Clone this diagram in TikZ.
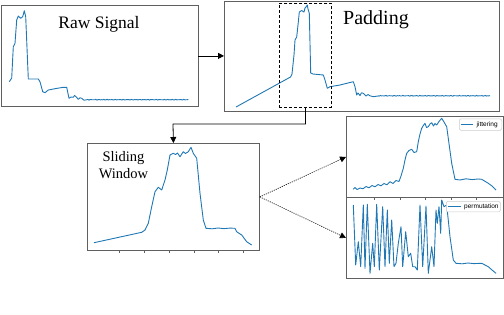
\documentclass[tikz,border=0pt]{standalone}
\usepackage{fontspec}
\setmainfont{Liberation Serif}
\newfontfamily\legendfont{Liberation Sans}
\usetikzlibrary{arrows.meta}
\definecolor{sigblue}{HTML}{1F77B4}
\definecolor{framegray}{HTML}{606060}
\definecolor{legendgray}{HTML}{CCCCCC}

\begin{document}
\begin{tikzpicture}[
  x=1pt,
  y=-1pt,
  every node/.style={font=\normalsize, black},
  panel/.style={draw=framegray, line width=0.8pt, inner sep=0pt,
                anchor=north west},
  cropbox/.style={draw=black, line width=0.9pt,
                  dash pattern=on 3pt off 2pt, inner sep=0pt,
                  anchor=north west},
  signal/.style={sigblue, line width=0.9pt, line join=round},
  tick/.style={framegray, line width=0.6pt},
  link/.style={black, line width=0.8pt,
               -{Triangle[length=6pt, width=6pt]}},
  augment/.style={black, line width=0.7pt,
                  dash pattern=on 1pt off 1.2pt,
                  -{Triangle[length=6pt, width=6pt]}},
  legendbox/.style={draw=legendgray, line width=0.5pt,
                    rounded corners=1.5pt, fill=white, inner sep=0pt,
                    anchor=north west},
  legendtext/.style={font=\legendfont\fontsize{6.5}{7}\selectfont,
                     anchor=west, inner sep=0pt}
]
  \useasboundingbox (0,0) rectangle (504,314);

  %% ---- panels ------------------------------------------------------------
  \node[panel, minimum width=197pt, minimum height=101pt] (raw) at (0.5,5) {};
  \node[panel, minimum width=275pt, minimum height=110pt] (padded) at (224,0.5) {};
  \node[panel, minimum width=172pt, minimum height=107pt] (sliding) at (87,143) {};
  \node[panel, minimum width=157pt, minimum height=81pt] (jitter) at (346,116) {};
  \node[panel, minimum width=157pt, minimum height=81pt] (perm) at (346,197) {};

  \foreach \t in {119,144,169,194,218,243}
    \draw[tick] (\t,250) -- (\t,252.5);
  \foreach \t in {374.3,400,425.5,451,476.5}
    \draw[tick] (\t,197) -- (\t,199.5);

  %% ---- raw signal --------------------------------------------------------
  \draw[signal] plot coordinates {
    (9.3,81.7) (11.7,78) (13.3,46.7) (15,43.3) (16.7,20) (18.3,16)
    (20.7,18.3) (22.7,16.7) (24.3,10.7) (25.7,16.7) (28.3,79) (38.3,79)
    (40,81.7) (42.7,91.7) (45,92.7) (48.3,90) (55,88.7) (63.3,87.3)
    (66.7,87.3) (69,98.3) (71,97) (73.3,97.3) (74.5,95.5) (76,96.7)
    (78.3,99.3) (80,97.8) (81.7,98.3) (84,100.3) (86.7,99.7)};
  \draw[signal] plot[domain=86.7:188.3, samples=90]
    (\x,{99.7+0.25*sin(131*(\x-80))+0.2*sin(89*(\x-80))});

  %% ---- padded signal -----------------------------------------------------
  \draw[signal] plot coordinates {
    (236,107) (290.5,77) (292,74) (294,55) (295,40) (296.7,37) (298,25)
    (299.3,12) (301.7,10.5) (303,11.5) (304,12) (305,8) (306,7)
    (307.3,5) (308,9) (309.3,13.3) (310.7,73) (313,74) (318,74.5)
    (323.3,75) (325,80) (327.3,88.3) (330,86.7) (340,85) (353.3,81.7)
    (355,86.7) (356.7,95) (358,93) (360,95.5) (361.5,92.8) (363.3,93.3)
    (366,96) (368,94.5) (370,95.8) (373.3,96.7) (378,96)};
  \draw[signal] plot[domain=378:490, samples=100]
    (\x,{95.8+0.25*sin(127*(\x-378))+0.2*sin(83*(\x-378))});

  %% ---- sliding window ----------------------------------------------------
  \draw[signal] plot coordinates {
    (94,242.7) (141.7,232.3) (145,230) (148.3,223.3) (151.7,206.7)
    (155,191.7) (158.3,187.3) (161.7,190) (165,180) (167.3,170)
    (170,155) (173.3,153.3) (175.5,154.5) (177.5,153) (180,156.7)
    (183.3,151.7) (185.5,153.5) (188.3,151.7) (191,147.3) (193.3,153.3)
    (196.7,158.3) (200,193.3) (203.3,220) (206,228.3) (212,228.8)
    (218,228) (224,228.6) (230,228.1) (235,228.3) (236.7,231.7)
    (241.7,235) (246.7,241.7) (251.7,245)};

  %% ---- jittering ---------------------------------------------------------
  \draw[signal] plot coordinates {
    (353.3,189.3) (355,187.5) (357,189.5) (360,188) (363,188.8) (366,186.5)
    (369,187.8) (372,185.5) (375,186.8) (378,184.5) (381,185.8) (384,183.5)
    (387,184.8) (390,181.7) (393,183.5) (396,180.5) (399,181.5) (401,176)
    (403.3,168.3) (405,160) (406.7,153.3) (409,150.5) (411.7,149.3)
    (414,152.5) (416.7,151.7) (418.3,141.7) (420,134) (421.7,128.3)
    (423,126) (425,123.3) (426.5,127.5) (428.3,126.7) (430,124)
    (431.7,122.7) (433.5,126) (435,123.5) (436.7,125) (439,121.5)
    (441.7,118.3) (444,122) (446.7,126.7) (451.7,163.3) (455,179.3)
    (460,180) (466,178.8) (472,179.6) (478,179) (481.7,179.3)
    (488.3,183.3) (492,186) (496,190)};

  %% ---- permutation -------------------------------------------------------
  \draw[signal] plot coordinates {
    (353.3,205) (355.7,265) (358.3,241.7) (360.7,266.7) (363.3,205)
    (365,268.3) (367.3,204.3) (370,273.3) (372.7,243.3) (374.3,266.7)
    (376.7,204.3) (379.3,270) (382.7,206.7) (385,266.7) (387.3,210)
    (389.3,263.3) (391.7,220) (394,266.7) (396,263.3) (398.3,243.3)
    (401,226.7) (402.7,266.7) (405.7,231.7) (408.3,256.7) (410.7,253.3)
    (412.7,266.7) (415,266.7) (417.3,270) (420,205) (422.7,266.7)
    (426,206) (428.3,273.3) (431.7,246.7) (434,266.7) (436,210)
    (437.3,223.3) (439,206.7) (440.7,233.3) (441.7,200) (444,206.7)
    (446.7,205) (450,236.7) (453.3,260) (456,263.3) (462,263.8)
    (468,263) (474,263.6) (481.7,263.3) (488.3,266.7) (492,270)
    (496,273.3)};

  %% ---- legends -----------------------------------------------------------
  \node[legendbox, minimum width=42.5pt, minimum height=11.5pt] (jitterkey) at (459,118.5) {};
  \draw[signal] ([xshift=2pt]jitterkey.west) -- ++(12,0);
  \node[legendtext] (jittertext) at ([xshift=17.5pt]jitterkey.west) {jittering};

  \node[legendbox, minimum width=54pt, minimum height=10.7pt] (permkey) at (446,201) {};
  \draw[signal] ([xshift=2pt]permkey.west) -- ++(12.7,0);
  \node[legendtext] (permtext) at ([xshift=18pt]permkey.west) {permutation};

  %% ---- crop window on the padded signal ----------------------------------
  \node[cropbox, minimum width=52pt, minimum height=104pt] (window) at (279,3) {};

  %% ---- titles ------------------------------------------------------------
  \node[anchor=base, inner sep=0pt, font=\fontsize{17.5}{20}\selectfont]
    (rawtitle) at (99,28.3) {Raw Signal};
  \node[anchor=base, inner sep=0pt, font=\fontsize{20}{23}\selectfont]
    (paddedtitle) at (376,24) {Padding};
  \node[anchor=north, inner sep=0pt, align=center,
        font=\fontsize{14.5}{17}\selectfont]
    (slidingtitle) at (123.5,151.6) {Sliding\\Window};

  %% ---- connectors --------------------------------------------------------
  \coordinate (drop) at (173,124);
  \draw[link] (raw.east) -- (padded.west);
  \draw[link] (window.south) |- (drop) -- (sliding.north);
  \draw[augment] (sliding.east) -- (jitter.west);
  \draw[augment] (sliding.east) -- (perm.west);
\end{tikzpicture}
\end{document}
